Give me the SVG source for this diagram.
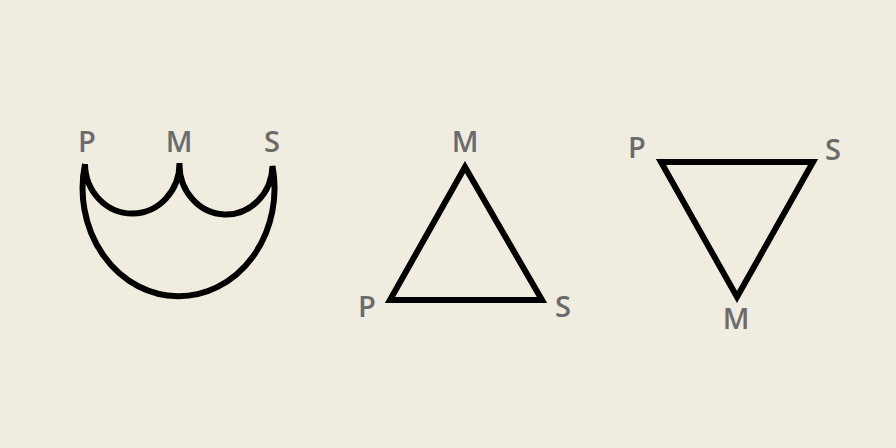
<svg xmlns="http://www.w3.org/2000/svg" width="896" height="448" viewBox="0 0 896 448">
<style>
.lbl{font-family:"Open Sans","Liberation Sans",Arial,sans-serif;font-size:29px;font-weight:600;fill:#6b6b6b;text-anchor:middle}
.shape{fill:none;stroke:#000;stroke-width:6;stroke-linejoin:miter}
</style>
<rect width="896" height="448" fill="#f0ece0"/>
<g id="node-crown">
<path class="shape" d="M85,164 A47.25,50 0 0 0 179.5,163 A46.5,50 0 0 0 272.5,166 A96,108 0 1 1 85,164"/>
<text class="lbl" x="87" y="152">P</text>
<text class="lbl" x="179" y="152">M</text>
<text class="lbl" x="272" y="152">S</text>
</g>
<g id="node-triangle-up">
<polygon class="shape" points="465,167 390,300 542,300"/>
<text class="lbl" x="465" y="152">M</text>
<text class="lbl" x="367" y="317">P</text>
<text class="lbl" x="563" y="317">S</text>
</g>
<g id="node-triangle-down">
<polygon class="shape" points="661,162 813,162 737,297"/>
<text class="lbl" x="637" y="158">P</text>
<text class="lbl" x="833" y="160">S</text>
<text class="lbl" x="736" y="329">M</text>
</g>
<g id="connectors"></g>
</svg>
